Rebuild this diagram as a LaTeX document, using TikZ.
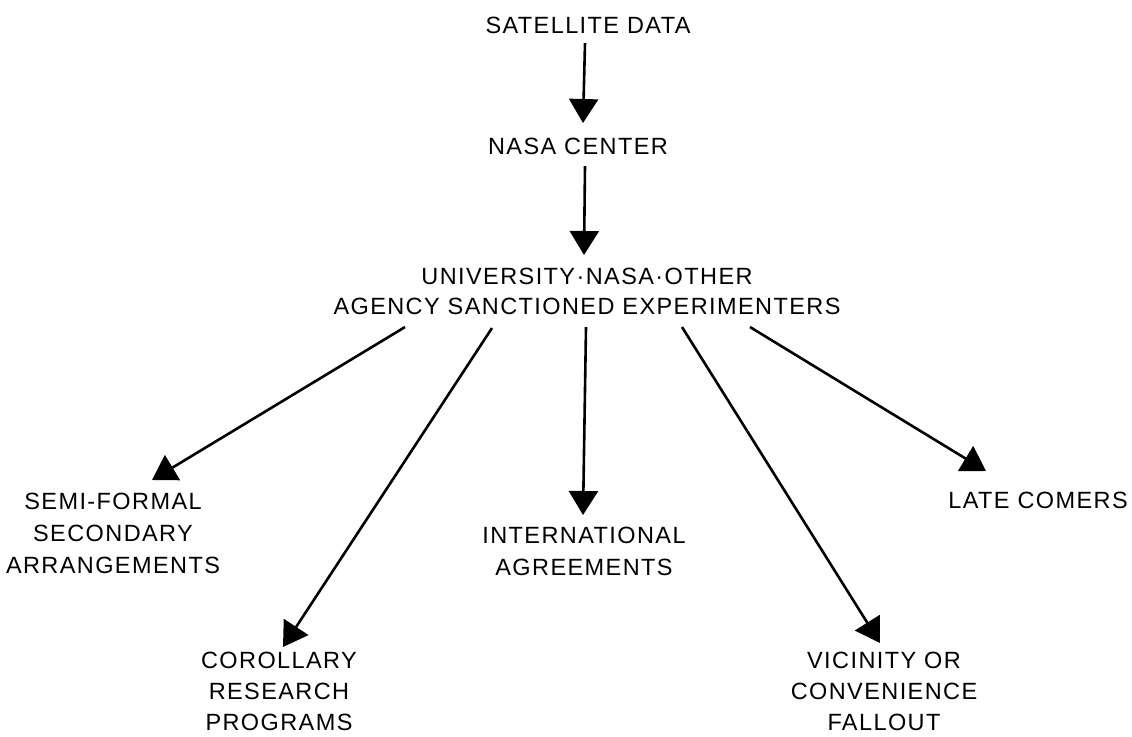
\documentclass[tikz,border=0pt]{standalone}
\usepackage{fontspec}
\setmainfont{Liberation Sans}[LetterSpace=6]
\usetikzlibrary{arrows.meta,calc}

\begin{document}
\begin{tikzpicture}[x=1pt,y=1pt,yscale=-1,xscale=1,
    lbl/.style={inner sep=0pt,anchor=north,align=center,font=\fontsize{23.5}{32}\selectfont},
    arr/.style={line width=2.6pt,-{Triangle[length=24pt,width=29pt]}}]
        %set diagram size to the scanned page
        \useasboundingbox (0,0) rectangle (1132,736);

        % Text Node
        \node [lbl] (sat) at (588,17) {SATELLITE DATA};
        % Text Node
        \node [lbl] (nasa) at (578,138) {NASA CENTER};
        % Text Node
        \node [lbl,font=\fontsize{23.5}{30}\selectfont] (exp) at (587,268) {UNIVERSITY·NASA·OTHER\\AGENCY SANCTIONED EXPERIMENTERS};
        % Text Node
        \node [lbl] (semi) at (113,493) {SEMI-FORMAL\\SECONDARY\\ARRANGEMENTS};
        % Text Node
        \node [lbl,font=\fontsize{23.5}{31}\selectfont] (coro) at (279,652) {COROLLARY\\RESEARCH\\PROGRAMS};
        % Text Node
        \node [lbl] (intl) at (584,527) {INTERNATIONAL\\AGREEMENTS};
        % Text Node
        \node [lbl,font=\fontsize{23.5}{31}\selectfont] (vic) at (884,652) {VICINITY OR\\CONVENIENCE\\FALLOUT};
        % Text Node
        \node [lbl] (late) at (1038,492) {LATE COMERS};

        %Straight Lines
        \draw [arr] ($(sat.south)+(-3,9)$) -- ($(nasa.north)+(5,-15)$);
        \draw [arr] ($(nasa.south)+(7,11)$) -- ($(exp.north)+(-3,-13)$);
        %Straight Lines
        \draw [arr] ($(exp.south)+(-182,12)$) -- ($(semi.north)+(39,-13)$);
        \draw [arr] ($(exp.south)+(-95,13)$) -- ($(coro.north)+(4,-5)$);
        \draw [arr] ($(exp.south)+(-1,12)$) -- ($(intl.north)+(-1,-12)$);
        \draw [arr] ($(exp.south)+(95,12)$) -- ($(vic.north)+(-4,-9)$);
        \draw [arr] ($(exp.south)+(163,12)$) -- ($(late.north)+(-52,-21)$);

\end{tikzpicture}
\end{document}
